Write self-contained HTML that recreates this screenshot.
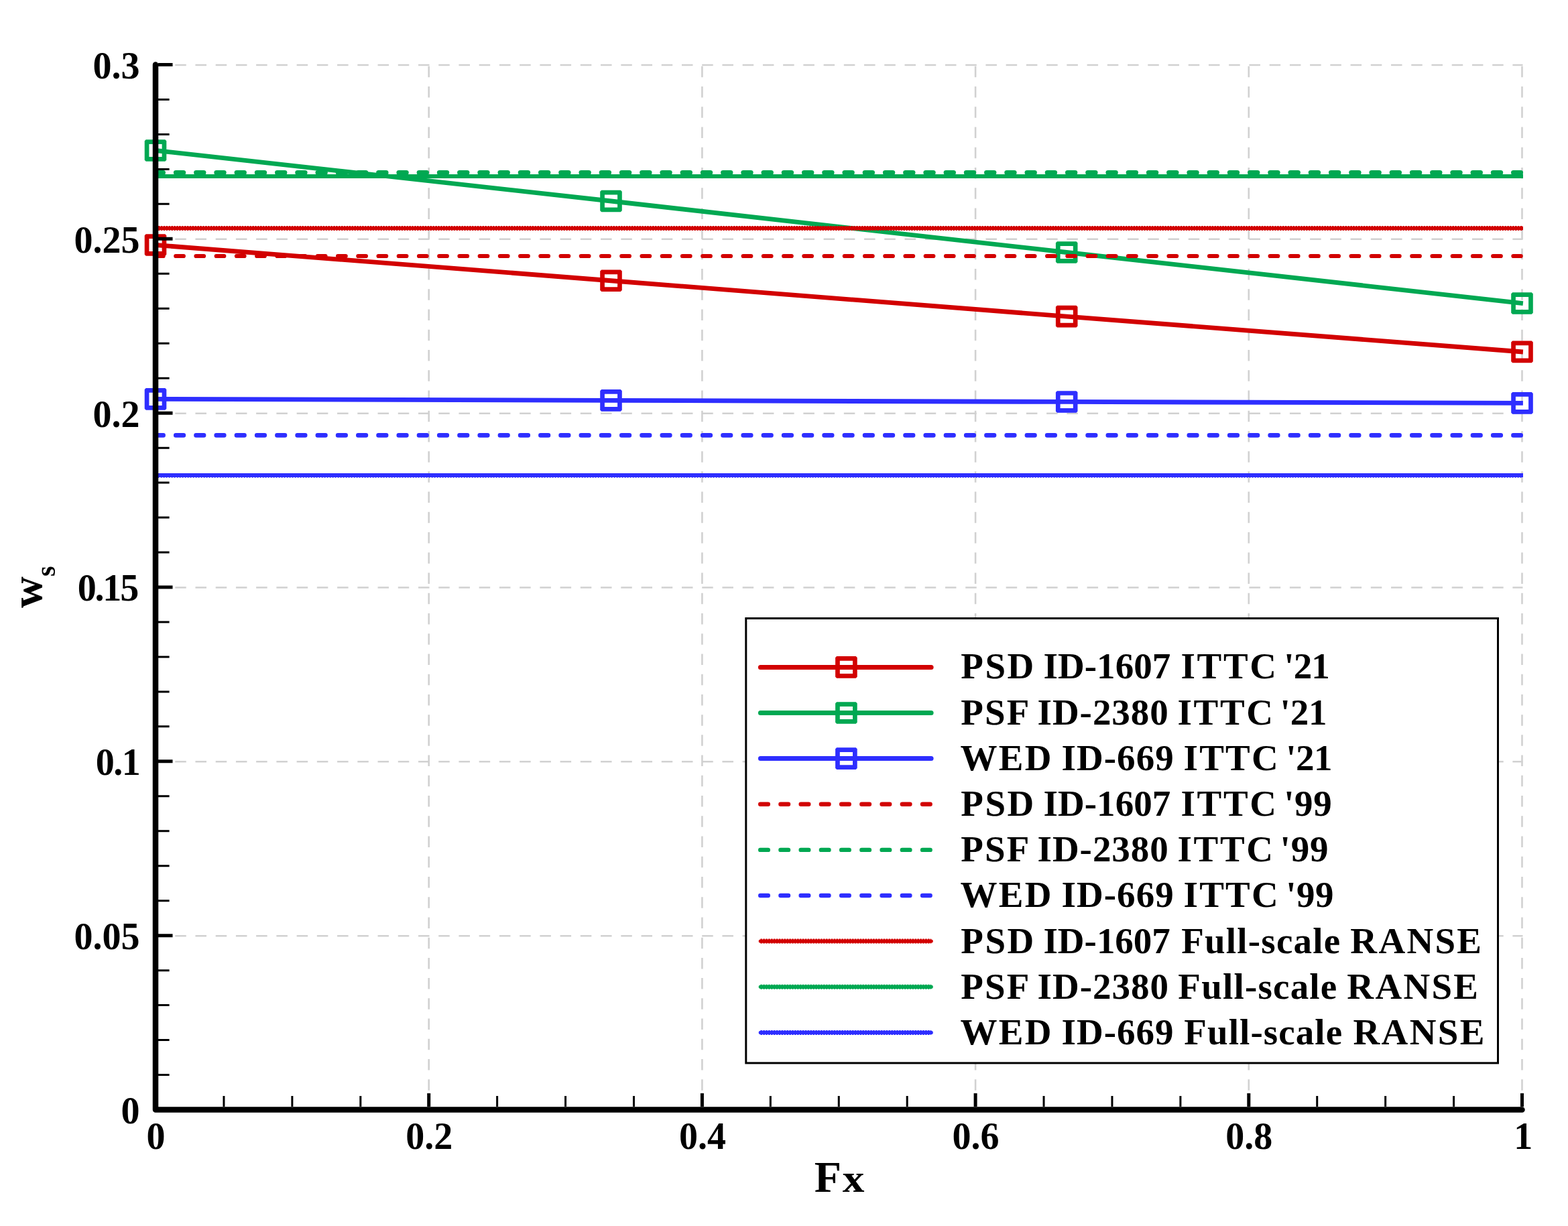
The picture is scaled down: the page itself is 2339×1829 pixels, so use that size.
<!DOCTYPE html>
<html><head><meta charset="utf-8"><title>Ws vs Fx</title>
<style>html,body{margin:0;padding:0;background:#fff;}svg{display:block;}</style>
</head><body>
<svg width="2339" height="1829" viewBox="0 0 2339 1829">
<rect x="0" y="0" width="2339" height="1829" fill="#fff"/>
<path d="M231.0 1396.2H2271.5M231.0 1136.3H2271.5M231.0 876.5H2271.5M231.0 616.7H2271.5M231.0 356.8H2271.5M231.0 97.0H2271.5" stroke="#d1d1d1" stroke-width="2.4" fill="none" stroke-dasharray="16.5 13.73"/>
<path d="M639.7 1657.0V96.5M1047.4 1657.0V96.5M1455.1 1657.0V96.5M1862.8 1657.0V96.5M2270.5 1657.0V96.5" stroke="#d1d1d1" stroke-width="2.6" fill="none" stroke-dasharray="16.5 13.73"/>
<path d="M232.0 365.50 L911.5 418.75 L1591.2 472.10 L2271.9 525.01" stroke="#d20000" stroke-width="6.8" fill="none" stroke-linejoin="round"/>
<path d="M217.70 349.20H246.30L248.30 351.20V379.80L246.30 381.80H217.70L215.70 379.80V351.20ZM222.40 355.90V375.10H241.60V355.90ZM897.20 402.45H925.80L927.80 404.45V433.05L925.80 435.05H897.20L895.20 433.05V404.45ZM901.90 409.15V428.35H921.10V409.15ZM1576.90 455.80H1605.50L1607.50 457.80V486.40L1605.50 488.40H1576.90L1574.90 486.40V457.80ZM1581.60 462.50V481.70H1600.80V462.50ZM2256.20 508.60H2284.80L2286.80 510.60V539.20L2284.80 541.20H2256.20L2254.20 539.20V510.60ZM2260.90 515.30V534.50H2280.10V515.30Z" fill="#d20000" fill-rule="evenodd"/>
<path d="M232.0 224.50 L911.5 300.00 L1591.2 376.50 L2271.9 452.66" stroke="#00a852" stroke-width="6.8" fill="none" stroke-linejoin="round"/>
<path d="M217.70 208.20H246.30L248.30 210.20V238.80L246.30 240.80H217.70L215.70 238.80V210.20ZM222.40 214.90V234.10H241.60V214.90ZM897.20 283.70H925.80L927.80 285.70V314.30L925.80 316.30H897.20L895.20 314.30V285.70ZM901.90 290.40V309.60H921.10V290.40ZM1576.90 360.20H1605.50L1607.50 362.20V390.80L1605.50 392.80H1576.90L1574.90 390.80V362.20ZM1581.60 366.90V386.10H1600.80V366.90ZM2256.20 436.20H2284.80L2286.80 438.20V466.80L2284.80 468.80H2256.20L2254.20 466.80V438.20ZM2260.90 442.90V462.10H2280.10V442.90Z" fill="#00a852" fill-rule="evenodd"/>
<path d="M232.0 595.40 L911.5 597.40 L1591.2 599.45 L2271.9 601.40" stroke="#2e2eff" stroke-width="6.8" fill="none" stroke-linejoin="round"/>
<path d="M217.70 579.10H246.30L248.30 581.10V609.70L246.30 611.70H217.70L215.70 609.70V581.10ZM222.40 585.80V605.00H241.60V585.80ZM897.20 581.10H925.80L927.80 583.10V611.70L925.80 613.70H897.20L895.20 611.70V583.10ZM901.90 587.80V607.00H921.10V587.80ZM1576.90 583.15H1605.50L1607.50 585.15V613.75L1605.50 615.75H1576.90L1574.90 613.75V585.15ZM1581.60 589.85V609.05H1600.80V589.85ZM2256.20 585.10H2284.80L2286.80 587.10V615.70L2284.80 617.70H2256.20L2254.20 615.70V587.10ZM2260.90 591.80V611.00H2280.10V591.80Z" fill="#2e2eff" fill-rule="evenodd"/>
<path d="M232.0 382.00H2268.7" stroke="#d20000" stroke-width="6.2" fill="none" stroke-linecap="round" stroke-dasharray="11.6 18.63"/>
<path d="M232.0 257.50H2268.7" stroke="#00a852" stroke-width="6.8" fill="none" stroke-linecap="round" stroke-dasharray="11.6 18.63"/>
<path d="M232.0 649.40H2268.7" stroke="#2e2eff" stroke-width="6.6" fill="none" stroke-linecap="round" stroke-dasharray="11.6 18.63"/>
<path d="M232.0 340.50H2272.0" stroke="#d20000" stroke-width="5.199999999999999" fill="none"/>
<path d="M232.0 340.50H2272.0" stroke="#d20000" stroke-width="6.8" fill="none" stroke-dasharray="2.6 1.3"/>
<path d="M232.0 262.9H2272.0" stroke="#00a852" stroke-width="6" fill="none"/>
<path d="M232.0 709.0H2272.0" stroke="#2e2eff" stroke-width="6" fill="none"/>
<path d="M232.0 712.5H2272.0" stroke="#2e2eff" stroke-width="1.1" fill="none" stroke-dasharray="1.2 2.8"/>
<path d="M232.0 96.5V1655.5H2270.5" stroke="#000" stroke-width="8.5" fill="none" stroke-linecap="round" stroke-linejoin="round"/>
<path d="M236 1603.53H252.6M236 1551.57H252.6M236 1499.60H252.6M236 1447.63H252.6M236 1343.70H252.6M236 1291.73H252.6M236 1239.77H252.6M236 1187.80H252.6M236 1083.87H252.6M236 1031.90H252.6M236 979.93H252.6M236 927.97H252.6M236 824.03H252.6M236 772.07H252.6M236 720.10H252.6M236 668.13H252.6M236 564.20H252.6M236 512.23H252.6M236 460.27H252.6M236 408.30H252.6M236 304.37H252.6M236 252.40H252.6M236 200.43H252.6M236 148.47H252.6" stroke="#000" stroke-width="3" fill="none"/>
<path d="M236 1655.50H257.5M236 1395.67H257.5M236 1135.83H257.5M236 876.00H257.5M236 616.17H257.5M236 356.33H257.5M236 96.50H257.5" stroke="#000" stroke-width="5" fill="none"/>
<path d="M333.93 1651V1635M435.85 1651V1635M537.78 1651V1635M741.62 1651V1635M843.55 1651V1635M945.48 1651V1635M1149.33 1651V1635M1251.25 1651V1635M1353.18 1651V1635M1557.03 1651V1635M1658.95 1651V1635M1760.88 1651V1635M1964.73 1651V1635M2066.65 1651V1635M2168.57 1651V1635" stroke="#000" stroke-width="3" fill="none"/>
<path d="M232.00 1651V1631M639.70 1651V1631M1047.40 1651V1631M1455.10 1651V1631M1862.80 1651V1631M2270.50 1651V1631" stroke="#000" stroke-width="5" fill="none"/>
<text x="208.5" y="1675.8" text-anchor="end" style="font-family:'Liberation Serif','Times New Roman',serif;font-weight:bold;font-size:56px">0</text>
<text x="208.5" y="1416.0" text-anchor="end" style="font-family:'Liberation Serif','Times New Roman',serif;font-weight:bold;font-size:56px">0.05</text>
<text x="142.77" y="1156.1" textLength="66.93" lengthAdjust="spacing" style="font-family:'Liberation Serif','Times New Roman',serif;font-weight:bold;font-size:56px">0.1</text>
<text x="115.77" y="896.3" textLength="91.38" lengthAdjust="spacing" style="font-family:'Liberation Serif','Times New Roman',serif;font-weight:bold;font-size:56px">0.15</text>
<text x="208.5" y="636.5" text-anchor="end" style="font-family:'Liberation Serif','Times New Roman',serif;font-weight:bold;font-size:56px">0.2</text>
<text x="208.5" y="376.6" text-anchor="end" style="font-family:'Liberation Serif','Times New Roman',serif;font-weight:bold;font-size:56px">0.25</text>
<text x="208.5" y="116.8" text-anchor="end" style="font-family:'Liberation Serif','Times New Roman',serif;font-weight:bold;font-size:56px">0.3</text>
<text x="232.5" y="1713.5" text-anchor="middle" style="font-family:'Liberation Serif','Times New Roman',serif;font-weight:bold;font-size:56px">0</text>
<text x="640.2" y="1713.5" text-anchor="middle" style="font-family:'Liberation Serif','Times New Roman',serif;font-weight:bold;font-size:56px">0.2</text>
<text x="1047.9" y="1713.5" text-anchor="middle" style="font-family:'Liberation Serif','Times New Roman',serif;font-weight:bold;font-size:56px">0.4</text>
<text x="1455.6" y="1713.5" text-anchor="middle" style="font-family:'Liberation Serif','Times New Roman',serif;font-weight:bold;font-size:56px">0.6</text>
<text x="1863.3" y="1713.5" text-anchor="middle" style="font-family:'Liberation Serif','Times New Roman',serif;font-weight:bold;font-size:56px">0.8</text>
<text x="2272.3" y="1713.5" text-anchor="middle" style="font-family:'Liberation Serif','Times New Roman',serif;font-weight:bold;font-size:56px">1</text>
<text x="1214.87" y="1778" style="font-family:'Liberation Serif','Times New Roman',serif;font-weight:bold;font-size:66px">F<tspan x="1256.65" textLength="32.66" lengthAdjust="spacingAndGlyphs" style="font-size:59px">x</tspan></text>
<text transform="translate(61.5 907) rotate(-90)" style="font-family:'Liberation Serif','Times New Roman',serif;font-weight:bold;font-size:65px">w<tspan dy="20.5" style="font-size:40px">s</tspan></text>
<rect x="1112.8" y="922.5" width="1121.7" height="663.4" fill="#fff" stroke="#000" stroke-width="3"/>
<path d="M1134.4 995.4H1389.1" stroke="#d20000" stroke-width="7" fill="none" stroke-linecap="round"/>
<path d="M1248.10 979.10H1276.70L1278.70 981.10V1009.70L1276.70 1011.70H1248.10L1246.10 1009.70V981.10ZM1252.80 985.80V1005.00H1272.00V985.80Z" fill="#d20000" fill-rule="evenodd"/>
<text y="1012.3" style="font-family:'Liberation Serif','Times New Roman',serif;font-weight:bold;font-size:55px"><tspan x="1433.36" textLength="108.93" lengthAdjust="spacing">PSD</tspan> <tspan x="1556.45" textLength="189.80" lengthAdjust="spacing">ID-1607</tspan> <tspan x="1761.45" textLength="142.54" lengthAdjust="spacing">ITTC</tspan> <tspan x="1915.21" textLength="68.64" lengthAdjust="spacing">'21</tspan></text>
<path d="M1134.4 1063.5H1389.1" stroke="#00a852" stroke-width="7" fill="none" stroke-linecap="round"/>
<path d="M1248.10 1047.22H1276.70L1278.70 1049.22V1077.82L1276.70 1079.82H1248.10L1246.10 1077.82V1049.22ZM1252.80 1053.92V1073.12H1272.00V1053.92Z" fill="#00a852" fill-rule="evenodd"/>
<text y="1080.5" style="font-family:'Liberation Serif','Times New Roman',serif;font-weight:bold;font-size:55px"><tspan x="1433.36" textLength="99.97" lengthAdjust="spacing">PSF</tspan> <tspan x="1547.55" textLength="195.25" lengthAdjust="spacing">ID-2380</tspan> <tspan x="1756.45" textLength="142.54" lengthAdjust="spacing">ITTC</tspan> <tspan x="1909.61" textLength="69.84" lengthAdjust="spacing">'21</tspan></text>
<path d="M1134.4 1131.6H1389.1" stroke="#2e2eff" stroke-width="7" fill="none" stroke-linecap="round"/>
<path d="M1248.10 1115.34H1276.70L1278.70 1117.34V1145.94L1276.70 1147.94H1248.10L1246.10 1145.94V1117.34ZM1252.80 1122.04V1141.24H1272.00V1122.04Z" fill="#2e2eff" fill-rule="evenodd"/>
<text y="1148.7" style="font-family:'Liberation Serif','Times New Roman',serif;font-weight:bold;font-size:55px"><tspan x="1432.52" textLength="135.86" lengthAdjust="spacing">WED</tspan> <tspan x="1583.55" textLength="167.14" lengthAdjust="spacing">ID-669</tspan> <tspan x="1765.45" textLength="141.34" lengthAdjust="spacing">ITTC</tspan> <tspan x="1918.31" textLength="69.24" lengthAdjust="spacing">'21</tspan></text>
<path d="M1134.2 1199.8H1390" stroke="#d20000" stroke-width="6.4" fill="none" stroke-linecap="round" stroke-dasharray="11.6 18.63"/>
<text y="1217.0" style="font-family:'Liberation Serif','Times New Roman',serif;font-weight:bold;font-size:55px"><tspan x="1433.36" textLength="108.93" lengthAdjust="spacing">PSD</tspan> <tspan x="1556.45" textLength="189.80" lengthAdjust="spacing">ID-1607</tspan> <tspan x="1761.45" textLength="142.54" lengthAdjust="spacing">ITTC</tspan> <tspan x="1915.21" textLength="71.48" lengthAdjust="spacing">'99</tspan></text>
<path d="M1134.2 1267.9H1390" stroke="#00a852" stroke-width="6.4" fill="none" stroke-linecap="round" stroke-dasharray="11.6 18.63"/>
<text y="1285.2" style="font-family:'Liberation Serif','Times New Roman',serif;font-weight:bold;font-size:55px"><tspan x="1433.36" textLength="99.97" lengthAdjust="spacing">PSF</tspan> <tspan x="1547.55" textLength="195.25" lengthAdjust="spacing">ID-2380</tspan> <tspan x="1756.45" textLength="142.54" lengthAdjust="spacing">ITTC</tspan> <tspan x="1909.61" textLength="71.78" lengthAdjust="spacing">'99</tspan></text>
<path d="M1134.2 1336.0H1390" stroke="#2e2eff" stroke-width="6.4" fill="none" stroke-linecap="round" stroke-dasharray="11.6 18.63"/>
<text y="1353.4" style="font-family:'Liberation Serif','Times New Roman',serif;font-weight:bold;font-size:55px"><tspan x="1432.52" textLength="135.86" lengthAdjust="spacing">WED</tspan> <tspan x="1583.55" textLength="167.14" lengthAdjust="spacing">ID-669</tspan> <tspan x="1765.45" textLength="141.34" lengthAdjust="spacing">ITTC</tspan> <tspan x="1918.31" textLength="71.28" lengthAdjust="spacing">'99</tspan></text>
<path d="M1134.4 1404.1H1389.1" stroke="#d20000" stroke-width="5.4" fill="none" stroke-linecap="round"/>
<path d="M1134.4 1404.1H1389.1" stroke="#d20000" stroke-width="7" fill="none" stroke-dasharray="2.6 1.3"/>
<text y="1421.6" style="font-family:'Liberation Serif','Times New Roman',serif;font-weight:bold;font-size:55px"><tspan x="1433.36" textLength="108.93" lengthAdjust="spacing">PSD</tspan> <tspan x="1556.45" textLength="189.40" lengthAdjust="spacing">ID-1607</tspan> <tspan x="1762.26" textLength="236.96" lengthAdjust="spacing">Full-scale</tspan> <tspan x="2014.36" textLength="195.66" lengthAdjust="spacing">RANSE</tspan></text>
<path d="M1134.4 1472.2H1389.1" stroke="#00a852" stroke-width="5.4" fill="none" stroke-linecap="round"/>
<path d="M1134.4 1472.2H1389.1" stroke="#00a852" stroke-width="7" fill="none" stroke-dasharray="2.6 1.3"/>
<text y="1489.8" style="font-family:'Liberation Serif','Times New Roman',serif;font-weight:bold;font-size:55px"><tspan x="1433.36" textLength="99.97" lengthAdjust="spacing">PSF</tspan> <tspan x="1547.55" textLength="195.45" lengthAdjust="spacing">ID-2380</tspan> <tspan x="1757.36" textLength="236.86" lengthAdjust="spacing">Full-scale</tspan> <tspan x="2009.36" textLength="195.66" lengthAdjust="spacing">RANSE</tspan></text>
<path d="M1134.4 1540.4H1389.1" stroke="#2e2eff" stroke-width="5.4" fill="none" stroke-linecap="round"/>
<path d="M1134.4 1540.4H1389.1" stroke="#2e2eff" stroke-width="7" fill="none" stroke-dasharray="2.6 1.3"/>
<text y="1558.1" style="font-family:'Liberation Serif','Times New Roman',serif;font-weight:bold;font-size:55px"><tspan x="1432.52" textLength="135.86" lengthAdjust="spacing">WED</tspan> <tspan x="1583.55" textLength="167.04" lengthAdjust="spacing">ID-669</tspan> <tspan x="1766.36" textLength="235.76" lengthAdjust="spacing">Full-scale</tspan> <tspan x="2018.46" textLength="196.06" lengthAdjust="spacing">RANSE</tspan></text>
</svg>
</body></html>
